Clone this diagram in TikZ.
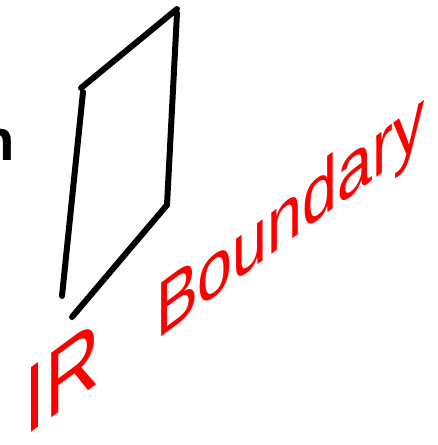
\documentclass[tikz,border=0pt]{standalone}
\usepackage{fontspec}
\setmainfont{Liberation Sans}
\usetikzlibrary{calc}
\begin{document}
\begin{tikzpicture}[x=1pt,y=-1pt,
  ink/.style={line width=6pt,line cap=round,line join=round,black},
  redtext/.style={text=red,font=\fontsize{78}{86}\selectfont,inner sep=0pt,transform shape,anchor=base west}]
\useasboundingbox (0,0) rectangle (437,445);
\coordinate (tl) at (81,88);
\coordinate (tr) at (177,9);
\coordinate (br) at (167,205);
\coordinate (bl) at (72,317);
\coordinate (ll) at (62,296);
\draw[ink] (tl) -- (tr);
\draw[ink] ($(tr)+(0,4)$) -- (br);
\draw[ink] (br) -- (bl);
\draw[ink] ($(tl)+(2,4)$) -- (ll);
\node[font=\bfseries\fontsize{58}{58}\selectfont,anchor=base east,inner sep=0pt] (cut) at (15,160) {n};
\begin{scope}[shift={(24,438)},cm={0.804,0.595,0,1,(0,0)}]
\node[redtext] (label) at (0,0) {{\fontsize{94}{100}\selectfont IR}\hspace{0.62em} Boundary};
\end{scope}
\end{tikzpicture}
\end{document}
